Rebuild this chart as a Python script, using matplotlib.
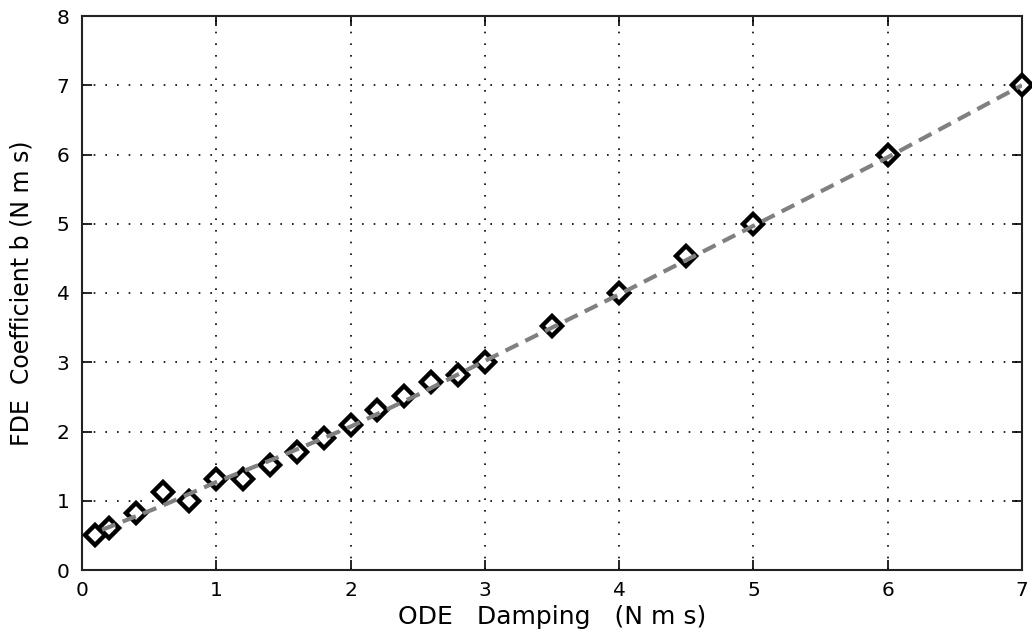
import matplotlib
matplotlib.use("Agg")
import matplotlib.pyplot as plt

# Data
ode_damping = [0.1, 0.2, 0.4, 0.6, 0.8, 1.0, 1.2, 1.4, 1.6, 1.8, 2.0, 2.2, 2.4, 2.6, 2.8, 3.0,
               3.5, 4.0, 4.5, 5.0, 6.0, 7.0]
fde_coeff = [0.5, 0.6, 0.82, 1.12, 1.0, 1.31, 1.31, 1.51, 1.71, 1.91, 2.1, 2.31, 2.51, 2.71, 2.81, 3.0,
             3.52, 4.0, 4.53, 5.0, 6.0, 7.0]

# Fitted (dashed) curve
fit_x = [0.15, 0.6, 1.0, 1.5, 2.0, 2.5, 3.0, 4.0, 5.0, 6.0, 7.0]
fit_y = [0.58, 0.93, 1.27, 1.66, 2.07, 2.53, 3.02, 3.98, 4.97, 5.96, 7.0]

x_ticks = [0, 1, 2, 3, 4, 5, 6, 7]
y_ticks = [0, 1, 2, 3, 4, 5, 6, 7, 8]

plt.rcParams['font.family'] = ['DejaVu Sans']

fig = plt.figure(figsize=(10.32, 6.4), dpi=100)
ax = fig.add_axes([82/1032, 1 - 570/640, (1022-82)/1032, (570-16)/640])

ax.plot(ode_damping, fde_coeff, linestyle='none', marker='D', markersize=10,
        markerfacecolor='white', markeredgecolor='black', markeredgewidth=3.2,
        zorder=3, clip_on=False)
ax.plot(fit_x, fit_y, linestyle=(0, (3.4, 1.9)), color='#808080', linewidth=3.0, zorder=4)

ax.set_xlim(0, 7)
ax.set_ylim(0, 8)
ax.set_xticks(x_ticks)
ax.set_yticks(y_ticks)
ax.set_xticklabels([str(v) for v in x_ticks])
ax.set_yticklabels([str(v) for v in y_ticks])

ax.grid(True, color='black', linestyle=(0, (1, 6)), linewidth=1.2)
ax.tick_params(direction='in', length=7, width=1.2, top=True, right=True,
               labelsize=14.5, colors='black')
ax.tick_params(axis='x', pad=8)
ax.tick_params(axis='y', pad=9)
for s in ax.spines.values():
    s.set_linewidth(1.5)
    s.set_color('#222222')

ax.set_xlabel('ODE   Damping   (N m s)', fontsize=18, va='center')
ax.xaxis.set_label_coords(0.5, -(617 - 570) / 554)
ax.set_ylabel('FDE  Coefficient b (N m s)', fontsize=17, va='center')
ax.yaxis.set_label_coords((22 - 82) / 940, 0.5)

fig.savefig('out.png', dpi=100)
